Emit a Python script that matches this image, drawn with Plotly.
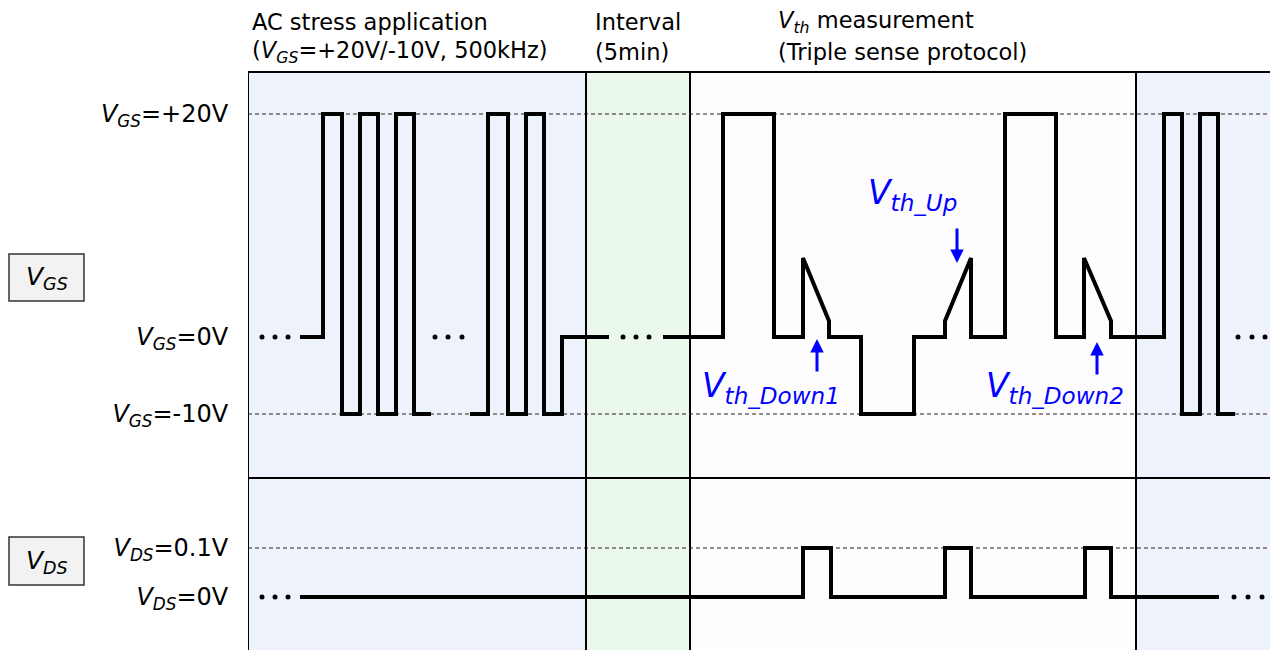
import plotly.graph_objects as go

W, H = 1270, 650
FONT = "DejaVu Sans"

# ---------------- data ----------------
# phase boundaries on the (schematic) time axis and their fills
PHASE_EDGES = [248, 586, 690, 1136, 1270]
PHASE_FILL = ["#EEF3FB", "#EAF9EC", "#FDFCFF", "#EEF3FB"]

# header texts: (time position, line 1, line 2)
HEADER_T = [250, 593, 776]
HEADER_L1 = ["AC stress application", "Interval", "<i>V<sub>th</sub></i> measurement"]
HEADER_L2 = ["(<i>V<sub>GS</sub></i>=+20V/-10V, 500kHz)", "(5min)", "(Triple sense protocol)"]

# V_GS schematic display levels
GS_LEVEL = {"hi": 20.0, "zero": -2.3, "lo": -10.0, "pk": 5.6, "ft": -0.7}
GS_TICK_VALS = [GS_LEVEL["hi"], GS_LEVEL["zero"], GS_LEVEL["lo"]]
GS_TICK_TEXT = ["<i>V<sub>GS</sub></i>=+20V", "<i>V<sub>GS</sub></i>=0V", "<i>V<sub>GS</sub></i>=-10V"]

# V_GS waveform vertices (time, level name), three drawn segments
GS_SEG1_T = [300, 323, 323, 342, 342, 360, 360, 378, 378, 396, 396, 414, 414, 431]
GS_SEG1_L = ["zero", "zero", "hi", "hi", "lo", "lo", "hi", "hi", "lo", "lo", "hi", "hi", "lo", "lo"]

GS_SEG2_T = [470, 488, 488, 508, 508, 526, 526, 544, 544, 562, 562, 609]
GS_SEG2_L = ["lo", "lo", "hi", "hi", "lo", "lo", "hi", "hi", "lo", "lo", "zero", "zero"]

GS_SEG3_T = [663, 723, 723, 774, 774, 803, 803, 829, 829, 861, 861, 914, 914, 945, 945, 971, 971,
             1005, 1005, 1056, 1056, 1084, 1084, 1111, 1111, 1164, 1164, 1182, 1182, 1200, 1200,
             1218, 1218, 1235]
GS_SEG3_L = ["zero", "zero", "hi", "hi", "zero", "zero", "pk", "ft", "zero", "zero", "lo", "lo",
             "zero", "zero", "ft", "pk", "zero", "zero", "hi", "hi", "zero", "zero", "pk", "ft",
             "zero", "zero", "hi", "hi", "lo", "lo", "hi", "hi", "lo", "lo"]

GS_DOTS_T = [262, 275, 288, 435, 448, 462, 623, 636, 649, 1238, 1252, 1265]

# V_DS waveform (time, volts)
DS_TICK_VALS = [0.1, 0.0]
DS_TICK_TEXT = ["<i>V<sub>DS</sub></i>=0.1V", "<i>V<sub>DS</sub></i>=0V"]
DS_T = [300, 803, 803, 831, 831, 945, 945, 971, 971, 1085, 1085, 1111, 1111, 1219]
DS_V = [0, 0, 0.1, 0.1, 0, 0, 0.1, 0.1, 0, 0, 0.1, 0.1, 0, 0]
DS_DOTS_T = [262, 275, 288, 1234, 1248, 1262]

# Vth sense point callouts: label, arrow tip time, arrow tip level, arrow direction
VTH_LABELS = ["<i>V<sub>th_Down1</sub></i>", "<i>V<sub>th_Up</sub></i>", "<i>V<sub>th_Down2</sub></i>"]
VTH_ARROW_T = [817, 957, 1097]
VTH_ARROW_Y = [-2.5, 5.1, -2.8]
VTH_ARROW_DIR = ["up", "down", "up"]
VTH_LABEL_T = [700, 866, 984]
VTH_LABEL_Y = [-7.3, 11.9, -7.3]

# ---------------- figure ----------------
def py2paper(py):
    return 1 - py / H

fig = go.Figure()

def add_line(t, y, yaxis):
    fig.add_trace(go.Scatter(x=t, y=y, mode="lines", xaxis="x", yaxis=yaxis,
                             line=dict(color="black", width=4),
                             hoverinfo="skip", showlegend=False, cliponaxis=False))

for seg_t, seg_l in [(GS_SEG1_T, GS_SEG1_L), (GS_SEG2_T, GS_SEG2_L), (GS_SEG3_T, GS_SEG3_L)]:
    add_line(seg_t, [GS_LEVEL[k] for k in seg_l], "y")
add_line(DS_T, DS_V, "y2")

fig.add_trace(go.Scatter(x=GS_DOTS_T, y=[GS_LEVEL["zero"]] * len(GS_DOTS_T), mode="markers",
                         xaxis="x", yaxis="y", marker=dict(color="black", size=5),
                         hoverinfo="skip", showlegend=False, cliponaxis=False))
fig.add_trace(go.Scatter(x=DS_DOTS_T, y=[0] * len(DS_DOTS_T), mode="markers",
                         xaxis="x", yaxis="y2", marker=dict(color="black", size=5),
                         hoverinfo="skip", showlegend=False, cliponaxis=False))

shapes = []
top_paper = py2paper(72)
mid_paper = py2paper(478)
for i, col in enumerate(PHASE_FILL):
    shapes.append(dict(type="rect", xref="x", yref="paper", x0=PHASE_EDGES[i], x1=PHASE_EDGES[i + 1],
                       y0=0, y1=top_paper, fillcolor=col, line=dict(width=0), layer="below"))
# dashed reference levels
for yv, yr in [(GS_LEVEL["hi"], "y"), (GS_LEVEL["lo"], "y"), (0.1, "y2")]:
    shapes.append(dict(type="line", xref="x", yref=yr, x0=PHASE_EDGES[0], x1=PHASE_EDGES[-1],
                       y0=yv, y1=yv, line=dict(color="#222222", width=1.1, dash="4px,3px"), layer="below"))
# frame lines
shapes.append(dict(type="line", xref="x", yref="paper", x0=PHASE_EDGES[0], x1=PHASE_EDGES[-1],
                   y0=top_paper, y1=top_paper, line=dict(color="black", width=2), layer="below"))
shapes.append(dict(type="line", xref="x", yref="paper", x0=PHASE_EDGES[0], x1=PHASE_EDGES[-1],
                   y0=mid_paper, y1=mid_paper, line=dict(color="black", width=2), layer="below"))
for xe in PHASE_EDGES[:-1]:
    shapes.append(dict(type="line", xref="x", yref="paper", x0=xe, x1=xe, y0=0, y1=top_paper,
                       line=dict(color="black", width=2), layer="below"))
# signal name boxes
for (y0, y1) in [(254, 301), (537, 585)]:
    shapes.append(dict(type="rect", xref="paper", yref="paper", x0=9 / W, x1=84 / W,
                       y0=py2paper(y1), y1=py2paper(y0), fillcolor="#F2F2F2",
                       line=dict(color="#333333", width=1.5)))

annotations = []
for t, l1, l2 in zip(HEADER_T, HEADER_L1, HEADER_L2):
    annotations.append(dict(x=t, xref="x", y=py2paper(22), yref="paper", text=l1, showarrow=False,
                            xanchor="left", yanchor="middle", font=dict(family=FONT, size=22.5, color="black")))
    annotations.append(dict(x=t, xref="x", y=py2paper(52), yref="paper", text=l2, showarrow=False,
                            xanchor="left", yanchor="middle", font=dict(family=FONT, size=22.5, color="black")))
for txt, yc in [("<i>V<sub>GS</sub></i>", 278), ("<i>V<sub>DS</sub></i>", 562)]:
    annotations.append(dict(x=47 / W, xref="paper", y=py2paper(yc), yref="paper", text=txt, showarrow=False,
                            xanchor="center", yanchor="middle", font=dict(family=FONT, size=25, color="black")))
for lab, at, ay, d, lt, ly in zip(VTH_LABELS, VTH_ARROW_T, VTH_ARROW_Y, VTH_ARROW_DIR, VTH_LABEL_T, VTH_LABEL_Y):
    annotations.append(dict(x=at, xref="x", y=ay, yref="y", text="", showarrow=True,
                            ax=0, ay=(34 if d == "up" else -36), axref="pixel", ayref="pixel",
                            arrowhead=2, arrowsize=0.9, arrowwidth=3, arrowcolor="#0000FF", standoff=0))
    annotations.append(dict(x=lt, xref="x", y=ly, yref="y", text=lab, showarrow=False,
                            xanchor="left", yanchor="middle", font=dict(family=FONT, size=33, color="#0000FF")))

x_dom0 = PHASE_EDGES[0] / W
fig.update_layout(
    width=W, height=H, margin=dict(l=0, r=0, t=0, b=0),
    paper_bgcolor="white", plot_bgcolor="rgba(0,0,0,0)",
    showlegend=False, shapes=shapes, annotations=annotations,
    xaxis=dict(domain=[x_dom0, 1], range=[PHASE_EDGES[0], PHASE_EDGES[-1]], visible=False,
               anchor="y2"),
    yaxis=dict(domain=[py2paper(478), py2paper(72)], range=[-16.4, 24.2], anchor="x",
               tickmode="array", tickvals=GS_TICK_VALS, ticktext=GS_TICK_TEXT,
               ticks="outside", ticklen=14, tickcolor="rgba(0,0,0,0)",
               showgrid=False, zeroline=False, showline=False,
               tickfont=dict(family=FONT, size=24, color="black")),
    yaxis2=dict(domain=[0, py2paper(478)], range=[-53 / 490, 119 / 490], anchor="x",
                tickmode="array", tickvals=DS_TICK_VALS, ticktext=DS_TICK_TEXT,
                ticks="outside", ticklen=14, tickcolor="rgba(0,0,0,0)",
                showgrid=False, zeroline=False, showline=False,
                tickfont=dict(family=FONT, size=24, color="black")),
)

fig.write_html("out.html", config={"displayModeBar": False},
               post_script="document.body.style.margin='0';")
